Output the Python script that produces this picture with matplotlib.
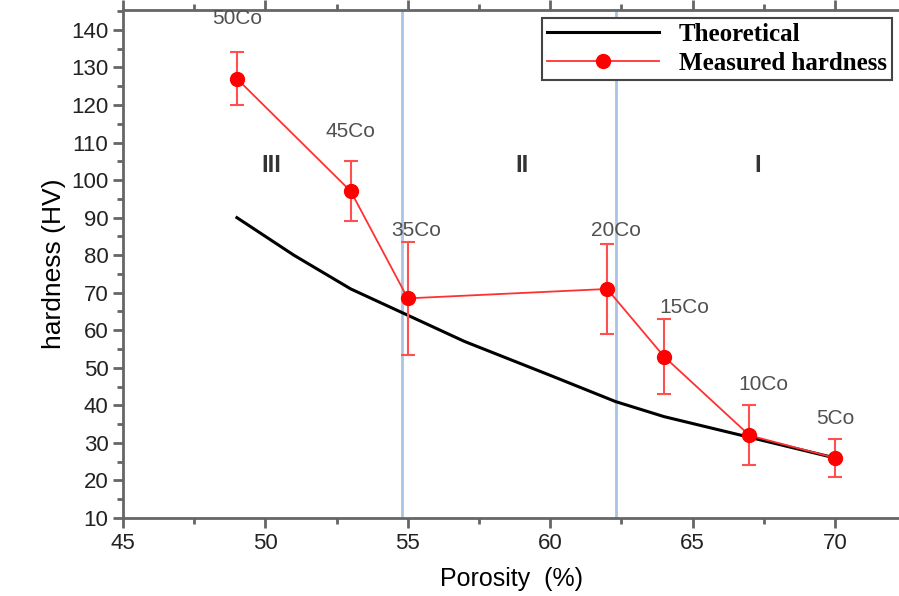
import matplotlib
matplotlib.use("Agg")
import matplotlib.pyplot as plt
from matplotlib.ticker import MultipleLocator

# Theoretical curve
theo_x = [49, 51, 53, 55, 57, 60, 62.3, 64, 67, 70]
theo_y = [90, 80, 71, 64, 57, 48, 41, 37, 31.5, 26]

# Measured hardness
meas_x = [49, 53, 55, 62, 64, 67, 70]
meas_y = [127, 97, 68.5, 71, 53, 32, 26]
meas_err = [7, 8, 15, 12, 10, 8, 5]
meas_labels = ["50Co", "45Co", "35Co", "20Co", "15Co", "10Co", "5Co"]
label_pos = [(49, 143), (53, 113), (55.3, 86.5), (62.3, 86.5), (64.7, 66), (67.5, 45.5), (70, 36.5)]

# Regions
region_lines = [54.8, 62.3]
region_names = ["III", "II", "I"]
region_x = [50.2, 59.0, 67.3]

fig = plt.figure(figsize=(8.99, 5.96), dpi=100)
ax = fig.add_axes([123 / 899, 78 / 596, 1 - 123 / 899, 508 / 596])

for xv in region_lines:
    ax.axvline(xv, color="#a9c4e4", lw=2, zorder=1)

ax.plot(theo_x, theo_y, color="black", lw=2.2, label="Theoretical", zorder=2)
ax.errorbar(meas_x, meas_y, yerr=meas_err, fmt="none", ecolor="#ff5050",
            elinewidth=1.5, capsize=5, capthick=1.5, zorder=3)
ax.plot(meas_x, meas_y, color="#ff3030", marker="o", ms=10, mfc="red", mec="red",
        lw=1.3, label="Measured hardness", zorder=4)

for lab, (lx, ly) in zip(meas_labels, label_pos):
    ax.text(lx, ly, lab, ha="center", va="center", fontsize=15,
            color="#505050", family="Liberation Sans")

for name, rx in zip(region_names, region_x):
    ax.text(rx, 104, name, ha="center", va="center", fontsize=17,
            color="#333333", family="Liberation Sans", weight="bold")

ax.set_xlim(45, 72.25)
ax.set_ylim(10, 145.3)
ax.xaxis.set_major_locator(MultipleLocator(5))
ax.xaxis.set_minor_locator(MultipleLocator(2.5))
ax.yaxis.set_major_locator(MultipleLocator(10))
ax.yaxis.set_minor_locator(MultipleLocator(5))

for s in ["left", "bottom", "top"]:
    ax.spines[s].set_color("#666666")
    ax.spines[s].set_linewidth(2)
ax.spines["right"].set_visible(False)

ax.tick_params(which="both", direction="out", color="#666666", width=2,
               labelsize=16, labelcolor="#222222", top=True)
ax.tick_params(which="major", length=7)
ax.tick_params(which="minor", length=4)
for lab in ax.get_xticklabels() + ax.get_yticklabels():
    lab.set_family("Liberation Sans")

ax.set_xlabel("Porosity  (%)", fontsize=18, family="Liberation Sans", labelpad=10)
ax.set_ylabel("hardness (HV)", fontsize=19, family="Liberation Sans", labelpad=4)

leg = ax.legend(loc="upper right", bbox_to_anchor=(0.991, 0.985), borderaxespad=0,
                fancybox=False,
                prop={"family": "Liberation Serif", "weight": "bold", "size": 18},
                handlelength=4.5, borderpad=0.2, labelspacing=0.25,
                handletextpad=0.8, edgecolor="#444444", framealpha=1)
leg.get_frame().set_linewidth(1.5)

fig.savefig("out.png", dpi=100)
